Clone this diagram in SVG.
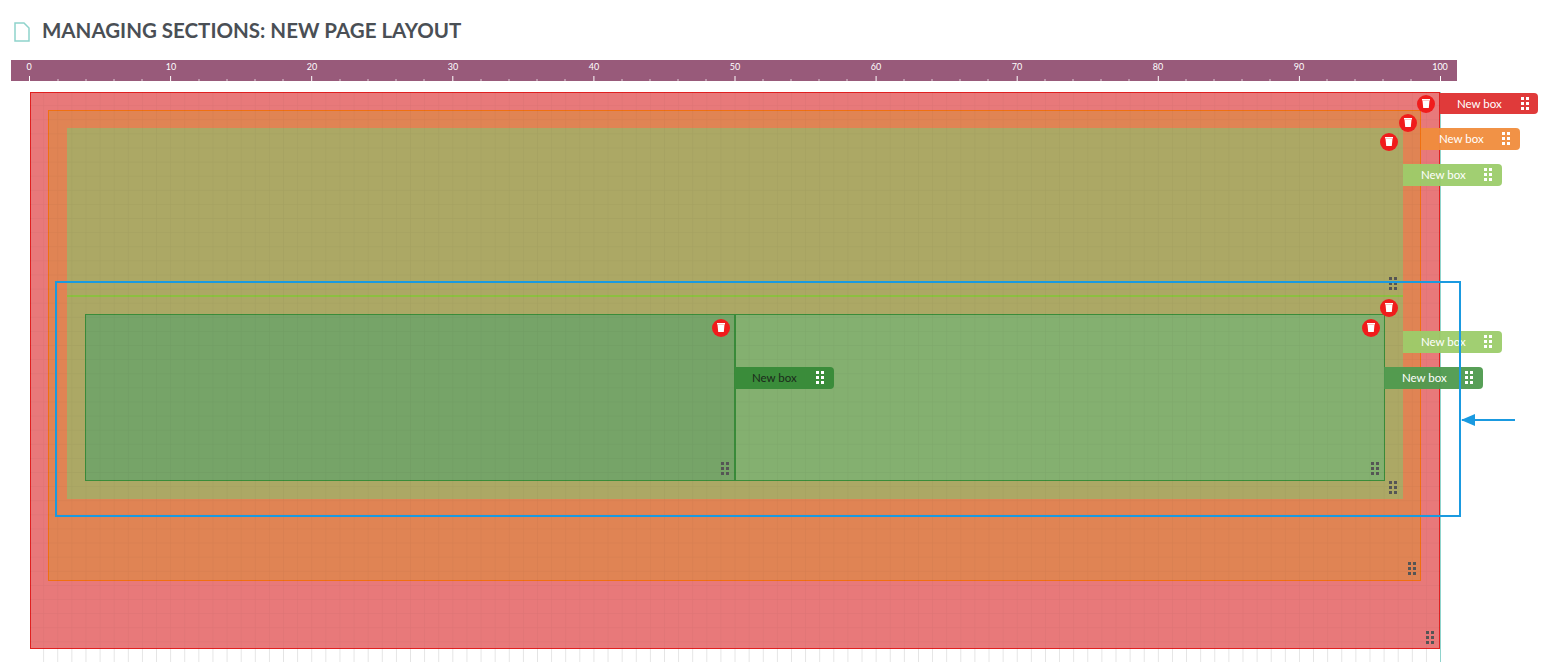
<svg xmlns="http://www.w3.org/2000/svg" width="1548" height="662" viewBox="0 0 1548 662">
<style>
text{font-family:Lato,"Liberation Sans",sans-serif}
.tag{font-size:11.5px;fill:#fff}
.rl{font-size:9px;fill:#fff;text-anchor:middle}
.del{fill:#f01c1c}
.g{fill:#555}
</style>
<defs>
<pattern id="grid" width="14.11" height="14.11" patternUnits="userSpaceOnUse" x="30" y="92">
<path d="M14.11 0V14.11H0" fill="none" stroke="#000" stroke-opacity="0.05" stroke-width="1"/>
</pattern>
<pattern id="wgrid" width="14.11" height="14.11" patternUnits="userSpaceOnUse" x="30" y="649">
<path d="M14.11 0V14.11H0" fill="none" stroke="#ccc" stroke-width="1"/>
</pattern>
<g id="dots"><rect x="0" y="0" width="3" height="3"/><rect x="5" y="0" width="3" height="3"/><rect x="0" y="5" width="3" height="3"/><rect x="5" y="5" width="3" height="3"/><rect x="0" y="10" width="3" height="3"/><rect x="5" y="10" width="3" height="3"/></g>
<g id="bin"><circle r="9" class="del"/><path d="M-3.5 -3.5H3.5L2.8 4H-2.8Z" fill="#fff"/><rect x="-4" y="-5" width="8" height="1.5" fill="#fff"/></g>
<marker id="ah" markerWidth="14" markerHeight="12" refX="13" refY="6" orient="auto" markerUnits="userSpaceOnUse"><path d="M0 0L14 6L0 12Z" fill="#1a9ae0"/></marker>
</defs>
<rect width="1548" height="662" fill="#fff"/>
<g id="title">
<path d="M15 23h9l5 5v13h-14z" fill="none" stroke="#8fd3cc" stroke-width="1.5"/>
<text x="42" y="38" font-size="20.5" font-weight="bold" fill="#4a4f55">MANAGING SECTIONS: NEW PAGE LAYOUT</text>
</g>
<g id="ruler">
<rect x="11" y="60" width="1446" height="21" fill="#985a7a"/>
<g stroke="#fff" stroke-width="1">
<path d="M29.5 76v5M170.6 76v5M311.7 76v5M452.8 76v5M593.9 76v5M735 76v5M876.1 76v5M1017.2 76v5M1158.3 76v5M1299.4 76v5M1440.5 76v5"/>
</g>
<g class="rl">
<text x="29" y="70">0</text><text x="171" y="70">10</text><text x="312" y="70">20</text><text x="453" y="70">30</text><text x="594" y="70">40</text><text x="735" y="70">50</text><text x="876" y="70">60</text><text x="1017" y="70">70</text><text x="1158" y="70">80</text><text x="1299" y="70">90</text><text x="1440" y="70">100</text>
</g>
<g stroke="#fff" stroke-opacity="0.7">
<path d="M58 79v2M86 79v2M114 79v2M142 79v2M199 79v2M227 79v2M255 79v2M283 79v2M340 79v2M368 79v2M396 79v2M424 79v2M481 79v2M509 79v2M537 79v2M565 79v2M622 79v2M650 79v2M678 79v2M706 79v2M763 79v2M791 79v2M819 79v2M847 79v2M904 79v2M932 79v2M960 79v2M988 79v2M1045 79v2M1073 79v2M1101 79v2M1129 79v2M1186 79v2M1214 79v2M1242 79v2M1270 79v2M1327 79v2M1355 79v2M1383 79v2M1411 79v2"/>
</g>
</g>
<rect x="30" y="649" width="1411" height="13" fill="url(#wgrid)"/>
<line x1="1440.5" y1="92" x2="1440.5" y2="662" stroke="#8fd3cc"/>
<g id="box-red">
<rect x="30.5" y="92.5" width="1409" height="556" fill="#e8797a" stroke="#e02020"/>
</g>
<g id="box-orange">
<rect x="48.5" y="110.5" width="1372" height="470" fill="#e08454" stroke="#f07010"/>
</g>
<g id="box-olive-1">
<rect x="67" y="128" width="1336" height="168" fill="#aca865"/>
</g>
<g id="box-olive-2">
<rect x="67" y="296" width="1336" height="203" fill="#aca865"/>
<line x1="67" y1="296" x2="1403" y2="296" stroke="#8cc040" stroke-width="2"/>
</g>
<g id="box-green-left">
<rect x="85.5" y="314.5" width="649" height="166" fill="#76a468" stroke="#3a8c3a"/>
</g>
<g id="box-green-right">
<rect x="735" y="314.5" width="649.5" height="166" fill="#84b070" stroke="#3a8c3a"/>
<line x1="735" y1="314" x2="735" y2="481" stroke="#3a8c3a" stroke-width="2"/>
</g>
<rect x="30" y="92" width="1410" height="557" fill="url(#grid)"/>
<g id="handles" class="g">
<use href="#dots" x="1389" y="277"/>
<use href="#dots" x="1389" y="481"/>
<use href="#dots" x="1371" y="462"/>
<use href="#dots" x="721" y="462"/>
<use href="#dots" x="1408" y="562"/>
<use href="#dots" x="1426" y="631"/>
</g>
<g id="bins">
<use href="#bin" x="1426" y="104"/>
<use href="#bin" x="1408" y="123"/>
<use href="#bin" x="1389" y="142"/>
<use href="#bin" x="1389" y="308"/>
<use href="#bin" x="1371" y="328"/>
<use href="#bin" x="721" y="328"/>
</g>
<g id="tag-red"><path d="M1440 93h94a4 4 0 0 1 4 4v13a4 4 0 0 1-4 4h-94z" fill="#e03a3a"/><text class="tag" x="1457" y="108">New box</text><use href="#dots" x="1521" y="97" fill="#fff"/></g>
<g id="tag-orange"><path d="M1421 128h95a4 4 0 0 1 4 4v14a4 4 0 0 1-4 4h-95z" fill="#f08c3c" fill-opacity="0.95"/><text class="tag" x="1439" y="143">New box</text><use href="#dots" x="1502" y="132" fill="#fff"/></g>
<g id="tag-lg1"><path d="M1403 164h95a4 4 0 0 1 4 4v14a4 4 0 0 1-4 4h-95z" fill="#9ccc6a" fill-opacity="0.95"/><text class="tag" x="1421" y="179">New box</text><use href="#dots" x="1484" y="168" fill="#fff"/></g>
<g id="tag-lg2"><path d="M1403 331h95a4 4 0 0 1 4 4v14a4 4 0 0 1-4 4h-95z" fill="#9ccc6a" fill-opacity="0.95"/><text class="tag" x="1421" y="346">New box</text><use href="#dots" x="1484" y="335" fill="#fff"/></g>
<g id="tag-dg"><path d="M1384 367h95a4 4 0 0 1 4 4v14a4 4 0 0 1-4 4h-95z" fill="#4e9a4e" fill-opacity="0.95"/><text class="tag" x="1402" y="382">New box</text><use href="#dots" x="1465" y="371" fill="#fff"/></g>
<g id="tag-mid"><path d="M735 367h95a4 4 0 0 1 4 4v14a4 4 0 0 1-4 4h-95z" fill="#3a8c3a"/><text class="tag" x="752" y="382" style="fill:#1a2a1a">New box</text><use href="#dots" x="816" y="371" fill="#fff"/></g>
<g id="connectors">
<rect x="56" y="282" width="1404" height="234" fill="none" stroke="#1a9ae0" stroke-width="2"/>
<line x1="1515" y1="420" x2="1462" y2="420" stroke="#1a9ae0" stroke-width="2" marker-end="url(#ah)"/>
</g>
</svg>
